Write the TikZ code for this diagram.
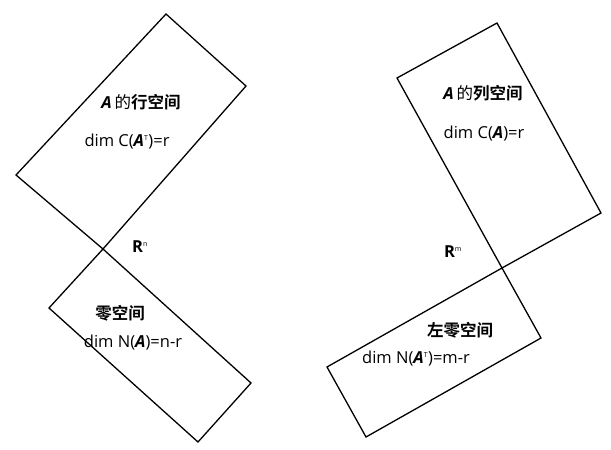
\documentclass[tikz,border=0pt]{standalone}
\usepackage{fontspec}
\setmainfont{Open Sans}
\newfontfamily\cjk{Noto Sans CJK SC}
\newfontfamily\cjkb{Noto Sans CJK SC Bold}
\newcommand{\bA}{\textbf{\textit{A}}}
\begin{document}
\begin{tikzpicture}[x=1pt,y=-1pt,
  box/.style={draw,line width=1.3pt,line join=miter},
  lbl/.style={font=\fontsize{16.5}{19}\selectfont,inner sep=0pt},
  ttl/.style={font=\fontsize{16.5}{19}\selectfont,inner sep=0pt}]
\useasboundingbox (0,0) rectangle (611,450);
\draw[box] (166,14) -- (246,86) -- (103,249) -- (16,175) -- cycle;
\draw[box] (103,249) -- (251,383) -- (198,442) -- (49,308) -- cycle;
\draw[box] (497,23) -- (601,213) -- (502,268) -- (397,78) -- cycle;
\draw[box] (502,268) -- (541,338) -- (366,437) -- (327,367) -- cycle;
\node[ttl] (t1) at (141,102) {\bA\,{\cjk 的}{\cjkb 行空间}};
\node[lbl] (d1) at (127,142) {dim C(\bA\textsuperscript{\scriptsize T})=r};
\node[ttl] (rn) at (140,247) {\textbf{R}\textsuperscript{\scriptsize n}};
\node[ttl] (t2) at (120,313) {\cjkb 零空间};
\node[lbl] (d2) at (133,343) {dim N(\bA)=n-r};
\node[ttl] (t3) at (483,93) {\bA\,{\cjk 的}{\cjkb 列空间}};
\node[lbl] (d3) at (484,134) {dim C(\bA)=r};
\node[ttl] (rm) at (453,252) {\textbf{R}\textsuperscript{\scriptsize m}};
\node[ttl] (t4) at (460,330) {\cjkb 左零空间};
\node[lbl] (d4) at (416,359) {dim N(\bA\textsuperscript{\scriptsize T})=m-r};
\end{tikzpicture}
\end{document}
